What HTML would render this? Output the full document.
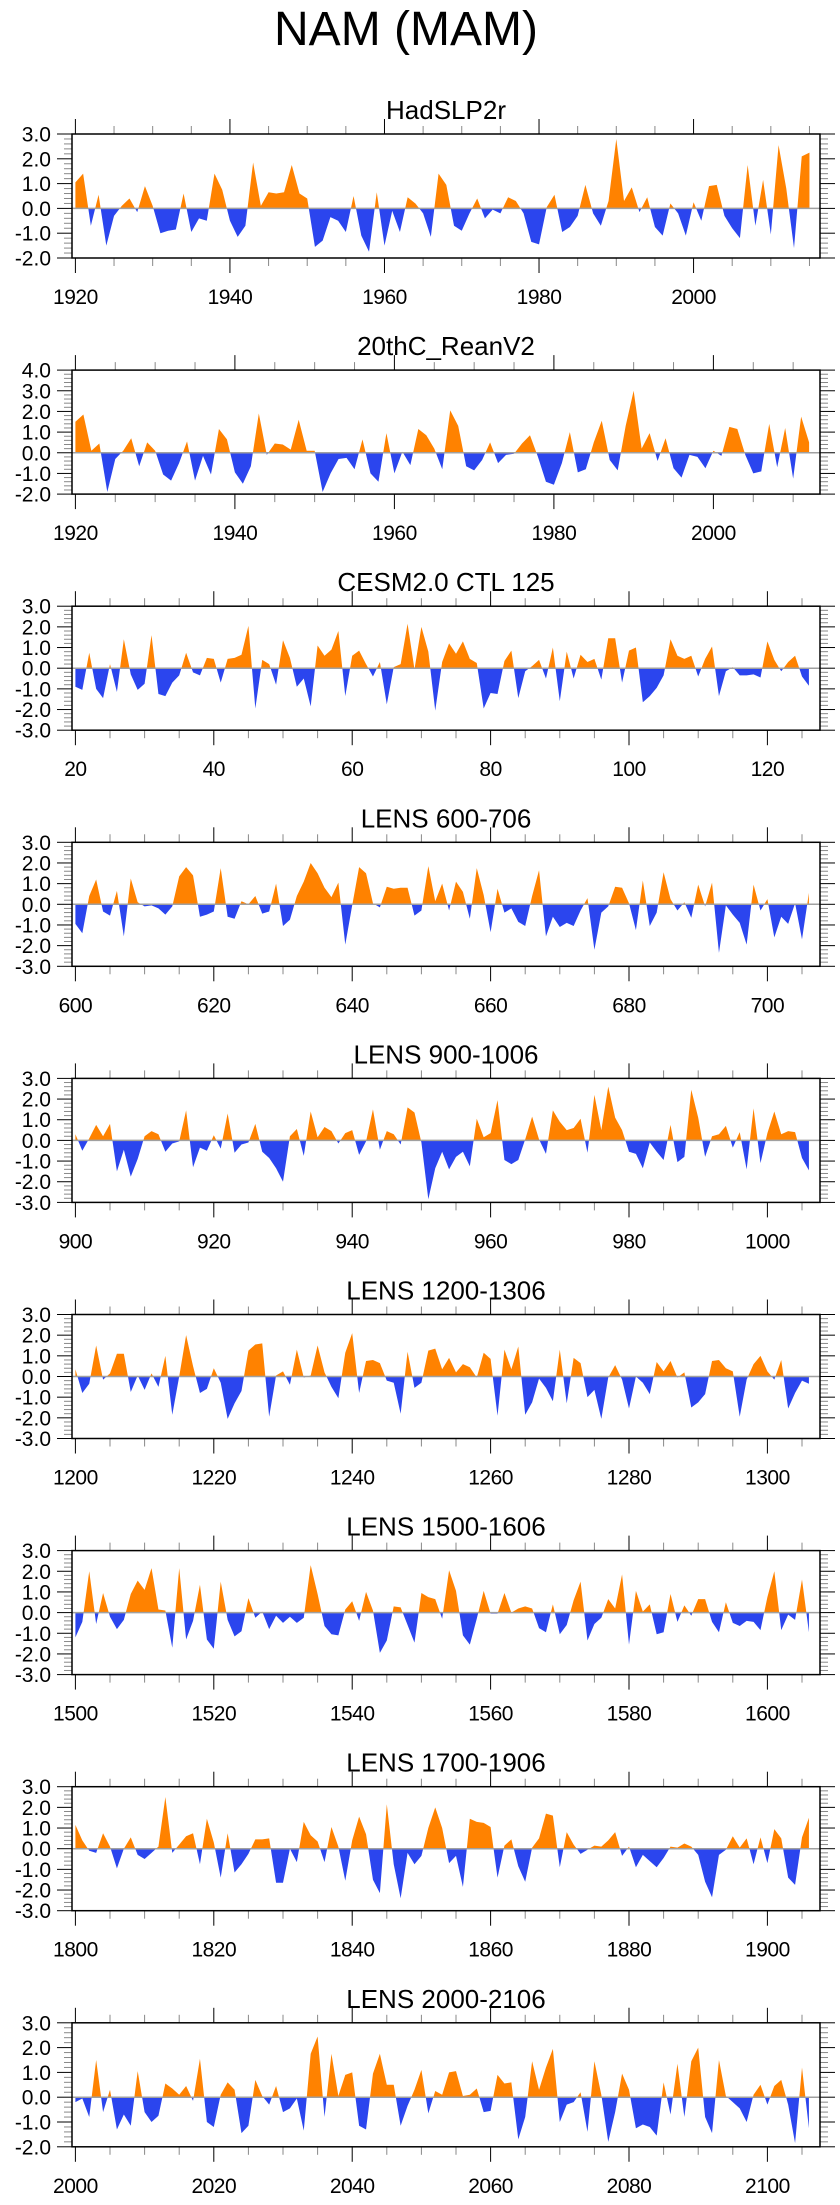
<!DOCTYPE html>
<html><head><meta charset="utf-8">
<style>
html,body{margin:0;padding:0;background:#fff;}
body{width:840px;height:2200px;overflow:hidden;}
svg text{font-family:"Liberation Sans",Arial,sans-serif;fill:#000;}
</style></head>
<body>
<svg id="chart" width="840" height="2200" viewBox="0 0 840 2200" xmlns="http://www.w3.org/2000/svg">
<text x="406" y="45" font-size="48" text-anchor="middle">NAM (MAM)</text>
</svg>
<script>
const panelTitles = ["HadSLP2r","20thC_ReanV2","CESM2.0 CTL 125","LENS 600-706","LENS 900-1006","LENS 1200-1306","LENS 1500-1606","LENS 1700-1906","LENS 2000-2106"];
const startYears = [1920,1920,20,600,900,1200,1500,1800,2000];
const yMins = [-2,-2,-3,-3,-3,-3,-3,-3,-2];
const yMaxs = [3,4,3,3,3,3,3,3,3];
const xMajorStep = [20,20,20,20,20,20,20,20,20];

const hadslp = [1.05,1.4,-0.7,0.55,-1.5,-0.3,0.1,0.4,-0.15,0.9,0.1,-1.0,-0.9,-0.85,0.6,-0.95,-0.4,-0.5,1.4,0.75,-0.5,-1.15,-0.7,1.85,0.1,0.65,0.6,0.65,1.75,0.6,0.4,-1.55,-1.3,-0.35,-0.5,-0.95,0.5,-1.1,-1.75,0.65,-1.5,-0.1,-0.95,0.45,0.2,-0.2,-1.15,1.4,0.95,-0.7,-0.9,-0.2,0.4,-0.4,-0.05,-0.2,0.45,0.3,-0.2,-1.35,-1.45,0.05,0.55,-0.95,-0.75,-0.3,0.95,-0.2,-0.7,0.3,2.8,0.3,0.85,-0.15,0.45,-0.75,-1.1,0.2,-0.2,-1.1,0.25,-0.5,0.9,0.95,-0.3,-0.8,-1.2,1.75,-0.7,1.15,-1.05,2.55,0.8,-1.6,2.1,2.25];
const reanV2 = [1.5,1.85,0.1,0.45,-1.9,-0.3,0.1,0.7,-0.65,0.5,0.1,-1.05,-1.35,-0.5,0.55,-1.35,-0.15,-1.05,1.15,0.65,-0.95,-1.5,-0.65,1.9,-0.1,0.45,0.4,0.15,1.6,0.1,0.1,-1.9,-1.0,-0.3,-0.25,-0.8,0.65,-1.0,-1.4,0.95,-1.0,0.05,-0.6,1.15,0.85,0.2,-0.8,2.05,1.3,-0.65,-0.85,-0.35,0.5,-0.5,-0.1,-0.05,0.45,0.85,-0.2,-1.4,-1.55,-0.5,1.0,-0.95,-0.8,0.5,1.55,-0.35,-0.85,1.3,3.0,0.2,0.95,-0.4,0.7,-0.75,-1.2,-0.1,-0.2,-0.75,0.1,-0.15,1.25,1.15,-0.1,-1.0,-0.9,1.4,-0.7,1.2,-1.25,1.75,0.5];
const cesmCtl = [-0.9,-1.05,0.75,-1.0,-1.45,0.2,-1.15,1.4,-0.3,-1.05,-0.75,1.6,-1.25,-1.35,-0.7,-0.35,0.75,-0.2,-0.35,0.5,0.45,-0.7,0.45,0.5,0.65,2.05,-1.95,0.4,0.2,-0.8,1.35,0.5,-0.9,-0.5,-1.85,1.1,0.6,0.9,1.8,-1.35,0.6,0.85,0.2,-0.4,0.3,-1.75,0.05,0.2,2.15,-0.05,2.0,0.8,-2.05,0.3,1.2,0.7,1.3,0.45,0.25,-1.95,-1.2,-1.25,0.35,0.85,-1.45,-0.15,0.1,0.4,-0.5,1.0,-1.6,0.8,-0.5,0.65,0.3,0.45,-0.55,1.45,1.45,-0.7,0.85,1.0,-1.65,-1.35,-0.95,-0.35,1.4,0.6,0.45,0.6,-0.4,0.45,1.05,-1.35,-0.15,0.05,-0.35,-0.35,-0.3,-0.45,1.3,0.4,-0.15,0.3,0.6,-0.4,-0.85];
const lens600 = [-0.95,-1.4,0.4,1.2,-0.35,-0.55,0.65,-1.55,1.25,0.1,-0.1,-0.05,-0.2,-0.5,-0.1,1.35,1.8,1.4,-0.6,-0.5,-0.35,1.75,-0.6,-0.7,0.15,0.0,0.4,-0.45,-0.35,1.0,-1.05,-0.75,0.4,1.1,2.0,1.5,0.8,0.35,1.05,-1.95,-0.05,1.8,1.5,0.05,-0.15,0.85,0.75,0.8,0.8,-0.55,-0.3,1.85,0.15,1.0,-0.3,1.1,0.6,-0.7,1.75,0.45,-1.35,0.75,-0.4,-0.2,-0.85,-1.05,0.4,1.65,-1.55,-0.6,-1.1,-0.9,-1.05,-0.3,0.3,-2.2,-0.4,-0.1,0.85,0.8,0.05,-1.25,1.15,-1.05,-0.4,1.55,0.25,-0.3,0.1,-0.65,0.95,-0.1,1.05,-2.35,-0.05,-0.5,-0.9,-1.95,0.95,-0.3,0.25,-1.6,-0.6,-0.95,0.05,-1.7,0.55];
const lens900 = [0.3,-0.5,0.1,0.75,0.2,0.8,-1.5,-0.45,-1.75,-0.9,0.2,0.45,0.3,-0.55,-0.15,-0.05,1.45,-1.3,-0.35,-0.5,0.25,-0.4,1.3,-0.6,-0.2,-0.1,0.8,-0.55,-0.85,-1.35,-2.0,0.2,0.55,-0.75,1.4,0.15,0.65,0.45,-0.15,0.35,0.5,-0.7,-0.05,1.5,-0.45,0.45,0.3,-0.2,1.6,1.35,-0.1,-2.85,-1.35,-0.55,-1.4,-0.8,-0.55,-1.25,1.05,0.15,0.35,1.95,-0.95,-1.15,-0.95,0.05,1.15,0.05,-0.65,1.45,0.9,0.5,0.6,1.05,-0.6,2.2,0.5,2.6,1.1,0.5,-0.55,-0.65,-1.35,-0.1,-0.55,-0.95,0.75,-1.05,-0.8,2.45,1.1,-0.8,0.2,0.3,0.7,-0.35,0.4,-1.4,1.55,-1.1,0.35,1.4,0.3,0.45,0.4,-0.85,-1.45];
const lens1200 = [0.35,-0.8,-0.35,1.5,-0.15,0.15,1.1,1.1,-0.75,0.05,-0.65,0.15,-0.5,1.0,-1.85,0.0,2.0,0.5,-0.8,-0.6,0.4,-0.3,-2.05,-1.3,-0.7,1.25,1.55,1.6,-1.95,0.05,0.25,-0.4,1.3,-0.05,0.05,1.5,0.2,-0.5,-1.05,1.15,2.1,-0.8,0.75,0.8,0.65,-0.2,-0.3,-1.8,1.2,-0.55,-0.3,1.25,1.35,0.35,0.9,0.2,0.6,0.45,-0.05,1.15,0.85,-1.9,1.3,0.35,1.45,-1.85,-1.25,-0.1,-0.55,-1.2,1.3,-1.3,0.9,0.65,-1.0,-0.65,-2.05,-0.05,0.55,-0.15,-1.55,0.0,-0.3,-0.85,0.7,0.25,0.75,-0.05,0.2,-1.5,-1.25,-0.85,0.75,0.8,0.4,0.25,-1.95,-0.15,0.6,1.0,0.25,-0.15,0.8,-1.55,-0.8,-0.2,-0.35];
const lens1500 = [-1.2,-0.45,2.0,-0.55,0.95,-0.2,-0.8,-0.35,0.9,1.55,1.1,2.15,0.15,0.1,-1.7,2.15,-1.3,-0.4,1.35,-1.3,-1.75,1.5,-0.35,-1.15,-0.9,0.7,-0.25,0.05,-0.8,-0.15,-0.5,-0.2,-0.5,-0.25,2.3,0.9,-0.65,-1.05,-1.1,0.15,0.55,-0.4,1.0,0.1,-1.95,-1.35,0.3,0.25,-0.6,-1.45,0.95,0.75,0.65,-0.3,2.05,1.05,-1.1,-1.55,-0.3,1.05,-0.05,-0.05,0.95,0.0,0.2,0.3,0.2,-0.75,-0.95,0.4,-1.05,-0.6,0.6,1.5,-1.35,-0.55,-0.25,0.65,0.2,1.85,-1.55,1.05,0.05,0.4,-1.05,-0.95,0.9,-0.45,0.35,-0.15,0.65,0.65,-0.45,-0.95,0.5,-0.5,-0.65,-0.4,-0.45,-0.85,0.75,2.0,-0.85,-0.1,-0.35,1.6,-0.95];
const lens1700 = [1.15,0.4,-0.1,-0.2,0.75,0.1,-0.95,0.0,0.55,-0.3,-0.5,-0.2,0.1,2.5,-0.2,0.2,0.6,0.75,-0.75,1.45,0.3,-1.4,0.75,-1.15,-0.75,-0.25,0.45,0.45,0.5,-1.65,-1.65,0.0,-0.65,1.3,0.65,0.35,-0.65,1.05,0.1,-1.55,0.4,1.55,0.7,-1.5,-2.15,2.15,-0.75,-2.4,-0.2,-0.75,-0.35,1.0,2.0,1.0,-0.7,-0.35,-1.85,1.45,1.3,1.25,1.05,-1.4,0.15,0.45,-0.85,-1.6,0.05,0.5,1.7,1.6,-0.9,0.8,0.2,-0.25,-0.05,0.15,0.1,0.4,0.8,-0.35,0.1,-0.9,-0.3,-0.6,-0.9,-0.45,0.1,0.05,0.25,0.1,-0.3,-1.6,-2.35,-0.3,-0.05,0.6,0.05,0.5,-0.75,0.55,-0.7,0.95,0.5,-1.4,-1.75,0.55,1.5];
const lens2000 = [-0.2,-0.05,-0.8,1.5,-0.6,0.3,-1.3,-0.7,-1.15,1.05,-0.6,-1.0,-0.75,0.55,0.35,0.1,0.45,-0.15,1.55,-1.0,-1.2,0.1,0.6,0.3,-1.45,-1.15,0.7,0.05,-0.3,0.45,-0.6,-0.45,-0.05,-1.35,1.75,2.45,-0.8,1.75,0.05,0.9,1.0,-1.15,-1.3,0.95,1.75,0.5,0.5,-1.15,-0.35,0.3,1.1,-0.65,0.25,0.1,1.0,1.05,0.05,0.1,0.35,-0.6,-0.55,0.9,0.55,0.6,-1.7,-0.8,1.45,0.3,1.2,1.95,-1.0,-0.3,-0.2,0.2,-1.4,1.45,0.1,-1.8,-0.6,0.95,0.3,-1.25,-1.1,-1.2,-1.55,0.6,-0.7,1.35,-0.8,1.45,2.0,-0.8,-1.45,1.5,0.05,-0.2,-0.45,-1.0,0.1,0.5,-0.3,0.45,0.7,-0.3,-1.85,1.2,-1.25];

const seriesList = [hadslp,reanV2,cesmCtl,lens600,lens900,lens1200,lens1500,lens1700,lens2000];

const NS = "http://www.w3.org/2000/svg";
const svg = document.getElementById("chart");
const BOX_L = 72, BOX_R = 820, BOX_H = 124, TOP0 = 134, STEP = 236.1;
const PX_PER_YEAR = [7.727, 7.975, 6.92, 6.92, 6.92, 6.92, 6.92, 6.92, 6.92];
const X0_PX = 75.4;

function mk(tag, attrs, parent) {
  const e = document.createElementNS(NS, tag);
  for (const k in attrs) e.setAttribute(k, attrs[k]);
  parent.appendChild(e);
  return e;
}

seriesList.forEach((vals, p) => {
  const top = TOP0 + STEP * p, bot = top + BOX_H;
  const ymin = yMins[p], ymax = yMaxs[p];
  const start = startYears[p];
  const ppy = PX_PER_YEAR[p];
  const xs = yr => X0_PX + (yr - start) * ppy;
  const ys = v => bot - (v - ymin) / (ymax - ymin) * BOX_H;
  const xMin = start - (X0_PX - BOX_L) / ppy;
  const xMax = start + (BOX_R - X0_PX) / ppy;

  const g = mk("g", {}, svg);
  
  

  const t = mk("text", {x: (BOX_L + BOX_R) / 2, y: top - 15, "font-size": 26, "text-anchor": "middle"}, g);
  t.textContent = panelTitles[p];
  
  

  const defs = mk("defs", {}, g);
  const y0 = ys(0);
  const cpA = mk("clipPath", {id: "ca" + p}, defs);
  mk("rect", {x: BOX_L, y: top, width: BOX_R - BOX_L, height: y0 - top}, cpA);
  const cpB = mk("clipPath", {id: "cb" + p}, defs);
  mk("rect", {x: BOX_L, y: y0, width: BOX_R - BOX_L, height: bot - y0}, cpB);

  let d = "M" + xs(start).toFixed(2) + "," + y0.toFixed(2);
  vals.forEach((v, i) => { d += " L" + xs(start + i).toFixed(2) + "," + ys(v).toFixed(2); });
  d += " L" + xs(start + vals.length - 1).toFixed(2) + "," + y0.toFixed(2) + " Z";

  const pa = mk("path", {d: d, fill: "#FF8200", "clip-path": "url(#ca" + p + ")"}, g);
  
  
  const pb = mk("path", {d: d, fill: "#2B45EE", "clip-path": "url(#cb" + p + ")"}, g);
  
  

  const zl = mk("line", {x1: BOX_L, x2: BOX_R, y1: y0, y2: y0, stroke: "#a0a0a0", "stroke-width": 1.5}, g);
  
  

  for (let k = Math.round(ymin * 5); k <= Math.round(ymax * 5); k++) {
    const v = k / 5, yy = ys(v);
    const major = k % 5 === 0;
    const len = major ? 15 : 8, col = major ? "#000" : "#888";
    mk("line", {x1: BOX_L - len, x2: BOX_L, y1: yy, y2: yy, stroke: col, "stroke-width": 1}, g);
    mk("line", {x1: BOX_R, x2: BOX_R + len, y1: yy, y2: yy, stroke: col, "stroke-width": 1}, g);
    if (major) {
      const lt = mk("text", {x: 51, y: yy + 7.5, "font-size": 21, "text-anchor": "end"}, g);
      lt.textContent = v.toFixed(1);
      
      
    }
  }
  for (let yr = Math.ceil(xMin / 5) * 5; yr <= xMax; yr += 5) {
    const xx = xs(yr);
    const major = (yr - start) % xMajorStep[p] === 0;
    const len = major ? 15 : 8, col = major ? "#000" : "#888";
    mk("line", {x1: xx, x2: xx, y1: top - len, y2: top, stroke: col, "stroke-width": 1}, g);
    mk("line", {x1: xx, x2: xx, y1: bot, y2: bot + len, stroke: col, "stroke-width": 1}, g);
    if (major) {
      const xt = mk("text", {x: xx, y: bot + 46, "font-size": 21, "text-anchor": "middle", "letter-spacing": "-0.5"}, g);
      xt.textContent = String(yr);
      
      
    }
  }
  const box = mk("rect", {x: BOX_L, y: top, width: BOX_R - BOX_L, height: BOX_H, fill: "none", stroke: "#000", "stroke-width": 1.5}, g);
  
  
});
</script>
</body></html>
